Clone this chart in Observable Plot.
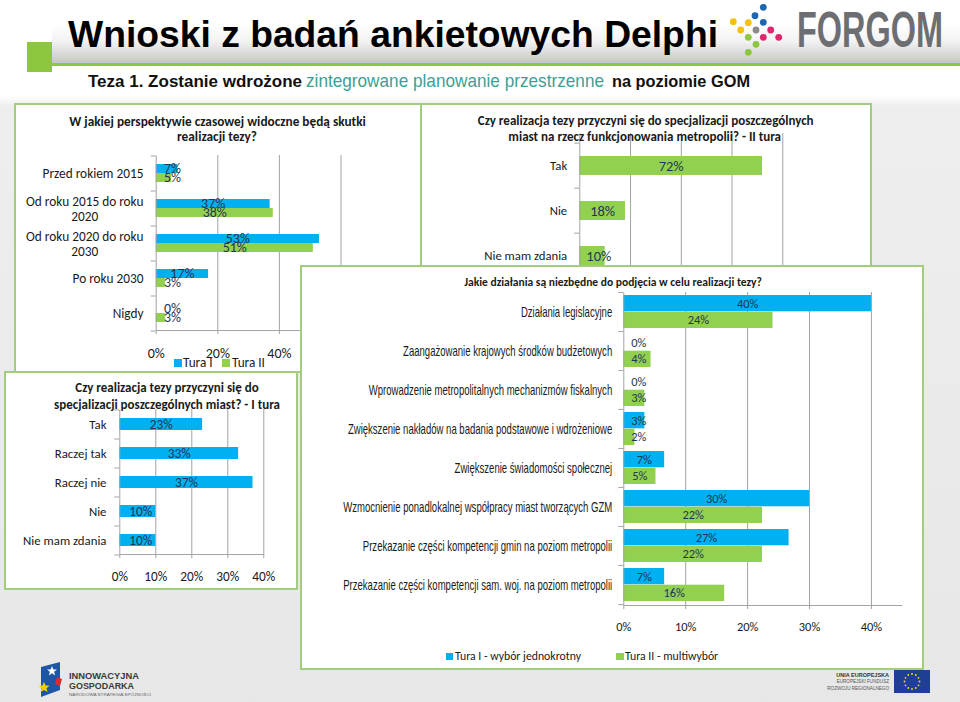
<!DOCTYPE html>
<html lang="pl">
<head>
<meta charset="utf-8">
<script src="https://cdn.jsdelivr.net/npm/d3@7"></script>
<script src="https://cdn.jsdelivr.net/npm/@observablehq/plot@0.6"></script>
<style>
  html, body { margin: 0; padding: 0; }
  body { width: 960px; height: 702px; overflow: hidden; }
  #stage { position: relative; width: 960px; height: 702px; overflow: hidden;
    background: linear-gradient(to bottom, #ffffff 0px, #ffffff 96px, #eeeeee 106px, #e7e7e7 702px); }
  .panel { position: absolute; box-sizing: border-box; background: #fff; border: 2px solid #a3cc7c; overflow: hidden; }
  .inner { position: absolute; width: 960px; height: 702px; }
  .txt { position: absolute; white-space: nowrap; line-height: 1; }
  .sw { position: absolute; }
</style>
</head>
<body>
<div id="stage"></div>
<script>
// ---------------- data ----------------
const perspCategories = ["Przed rokiem 2015", "Od roku 2015 do roku 2020", "Od roku 2020 do roku 2030", "Po roku 2030", "Nigdy"];
const perspTura1 = [7, 37, 53, 17, 0];
const perspTura2 = [5, 38, 51, 3, 3];
const perspTicks = [0, 20, 40, 60];
const perspSeries = ["Tura I", "Tura II"];

const specIICategories = ["Tak", "Nie", "Nie mam zdania"];
const specIIValues = [72, 18, 10];
const specIITicks = [0, 20, 40, 60, 80];

const specICategories = ["Tak", "Raczej tak", "Raczej nie", "Nie", "Nie mam zdania"];
const specIValues = [23, 33, 37, 10, 10];
const specITicks = [0, 10, 20, 30, 40];

const actionCategories = [
  "Działania legislacyjne",
  "Zaangażowanie krajowych środków budżetowych",
  "Wprowadzenie metropolitalnych mechanizmów fiskalnych",
  "Zwiększenie nakładów na badania podstawowe i wdrożeniowe",
  "Zwiększenie świadomości społecznej",
  "Wzmocnienie ponadlokalnej współpracy miast tworzących GZM",
  "Przekazanie części kompetencji gmin na poziom metropolii",
  "Przekazanie części kompetencji sam. woj. na poziom metropolii"
];
const actionTura1 = [40, 0, 0, 3.4, 6.6, 30, 26.7, 6.6];
const actionTura2 = [24.1, 4.4, 3.4, 1.8, 5.2, 22.4, 22.4, 16.3];
const actionTicks = [0, 10, 20, 30, 40];
const actionSeries = ["Tura I - wybór jednokrotny", "Tura II - multiwybór"];

const pageTitle = "Wnioski z badań ankietowych Delphi";
const logoText = "FORGOM";
const thesisParts = ["Teza 1. Zostanie wdrożone", "zintegrowane planowanie przestrzenne", "na poziomie GOM"];
const perspTitle = ["W jakiej perspektywie czasowej widoczne będą skutki", "realizacji tezy?"];
const specIITitle = ["Czy realizacja tezy przyczyni się do specjalizacji poszczególnych", "miast na rzecz funkcjonowania metropolii? - II tura"];
const specITitle = ["Czy realizacja tezy przyczyni się do", "specjalizacji poszczególnych miast? - I tura"];
const actionTitle = "Jakie działania są niezbędne do podjęcia w celu realizacji tezy?";

// ---------------- styles ----------------
const CAL = "Carlito, Lato, 'Open Sans', sans-serif";
const ARIAL = "'Liberation Sans', Arial, sans-serif";
const NARROW = "'Liberation Sans Narrow', 'Arial Narrow', 'Liberation Sans', Arial, sans-serif";
const BLUE = "#00b0f0", GREEN = "#92d050", GRID = "#a3a3a3", LABEL = "#1f3650", INK = "#1a1a1a";

const ctx = document.createElement("canvas").getContext("2d");
function textWidth(t, size, weight = "normal", family = CAL) {
  ctx.font = `${weight} ${size}px ${family}`;
  return ctx.measureText(t).width;
}
function fit(t, target, weight = "normal", family = CAL) {
  return 100 * target / textWidth(t, 100, weight, family);
}

const stage = document.getElementById("stage");

function panel(L, T, W, H) {
  const p = document.createElement("div");
  p.className = "panel";
  Object.assign(p.style, {left: L + "px", top: T + "px", width: W + "px", height: H + "px"});
  const inner = document.createElement("div");
  inner.className = "inner";
  inner.style.left = -(L + 2) + "px";
  inner.style.top = -(T + 2) + "px";
  p.appendChild(inner);
  stage.appendChild(p);
  return inner;
}
function addText(inner, str, x, y, size, {weight = "normal", family = CAL, color = INK, anchor = "middle"} = {}) {
  const d = document.createElement("div");
  d.className = "txt";
  d.textContent = str;
  Object.assign(d.style, {
    left: x + "px", top: y + "px", fontSize: size + "px", fontWeight: weight, fontFamily: family, color,
    transform: anchor === "middle" ? "translate(-50%,-50%)" : "translate(0,-50%)"
  });
  inner.appendChild(d);
}
function addSwatch(inner, x, y, s, color) {
  const d = document.createElement("div");
  d.className = "sw";
  Object.assign(d.style, {left: x + "px", top: (y - s / 2) + "px", width: s + "px", height: s + "px", background: color});
  inner.appendChild(d);
}

function barChart(o) {
  const n = o.cats.length, k = o.series.length;
  const step = (o.y1 - o.y0) / n;
  const bw = step * (1 - o.pi);
  const sub = bw / k;
  const W = o.x1 - o.x0, FH = o.y1 - o.frameTop;
  const minVal = o.minPx * (o.xDomain[1] - o.xDomain[0]) / W;
  const yfam = o.yFamily || CAL, ysize = o.ySize;
  const marks = [Plot.gridX(o.xTicks.filter(t => t > o.xDomain[0]), {stroke: GRID, strokeOpacity: 1})];
  const rowsOf = vals => o.cats.map((c, i) => ({cat: c, value: vals[i]}));
  o.series.forEach((vals, j) => {
    marks.push(Plot.barX(rowsOf(vals), {x: "value", y: "cat", fill: o.colors[j], insetTop: j * sub, insetBottom: (k - 1 - j) * sub}));
  });
  marks.push(Plot.frame({stroke: GRID, strokeDasharray: `0 ${W + FH} ${W + FH}`}));
  marks.push(Plot.axisY({ticks: o.cats, tickSize: 5, tickFormat: () => null, stroke: GRID, dy: -step / 2, label: null}));
  marks.push(Plot.axisY({ticks: o.cats.slice(-1), tickSize: 5, tickFormat: () => null, stroke: GRID, dy: step / 2, label: null}));
  if (o.xPad != null) {
    marks.push(Plot.axisX({ticks: o.xTicks, tickSize: 4, tickFormat: () => null, stroke: GRID, label: null}));
    marks.push(Plot.axisX({ticks: o.xTicks, tickSize: 0, tickPadding: o.xPad, tickFormat: d => d + "%", fontSize: o.fs, fill: INK, label: null}));
  }
  const disp = c => (o.wrapWidth && textWidth(c, ysize, "normal", yfam) > o.wrapWidth) ? c.replace(/ (\S+)$/, "\n$1") : c;
  const single = o.cats.filter(c => !disp(c).includes("\n"));
  marks.push(Plot.axisY({ticks: single, tickSize: 0, tickPadding: o.yPad, fontSize: ysize, fontFamily: yfam, fill: INK, label: null}));
  o.cats.filter(c => disp(c).includes("\n")).forEach(c => {
    const lines = disp(c).split("\n");
    const w = Math.max(...lines.map(l => textWidth(l, ysize, "normal", yfam)));
    marks.push(Plot.text([c], {y: d => d, text: disp, frameAnchor: "left", textAnchor: "middle",
      dx: -(o.yPad + w / 2), lineHeight: (o.lineGap || ysize * 1.1) / ysize, fontSize: ysize, fontFamily: yfam, fill: INK}));
  });
  o.series.forEach((vals, j) => {
    marks.push(Plot.text(rowsOf(vals), {x: d => Math.max(d.value / 2, minVal), y: "cat",
      dy: j * sub + sub / 2 - bw / 2, text: d => Math.round(d.value) + "%", fill: LABEL, fontSize: o.fs}));
  });
  const svg = Plot.plot({
    width: 960, height: 702,
    marginLeft: o.x0, marginRight: 960 - o.x1, marginTop: o.frameTop, marginBottom: 702 - o.y1,
    x: {domain: o.xDomain, axis: null},
    y: {domain: o.cats, paddingInner: o.pi, paddingOuter: o.pi / 2, insetTop: o.y0 - o.frameTop, axis: null},
    style: {background: "transparent", maxWidth: "none", fontFamily: CAL, fontSize: o.fs + "px",
      overflow: "visible", position: "absolute", left: "0px", top: "0px"},
    marks
  });
  return svg;
}

// ---------------- header ----------------
const logoScale = 146 / textWidth(logoText, 49, "bold", ARIAL);
const header = `
<svg width="960" height="100" style="position:absolute;left:0;top:0">
  <defs>
    <linearGradient id="band" x1="0" y1="0" x2="0" y2="1">
      <stop offset="0" stop-color="#ffffff"/><stop offset="0.45" stop-color="#f2f2f2"/><stop offset="1" stop-color="#c6c6c6"/>
    </linearGradient>
  </defs>
  <rect x="52" y="24" width="908" height="39" fill="url(#band)"/>
  <rect x="52" y="63" width="908" height="3" fill="#8dc63f"/>
  <rect x="27" y="42" width="25" height="30" fill="#8dc63f"/>
  <text x="68" y="47" font-family="${ARIAL}" font-weight="bold" font-size="37" fill="#000" textLength="650" lengthAdjust="spacingAndGlyphs">${pageTitle}</text>
  <g>
    <circle cx="763.3" cy="7.3" r="3.4" fill="#1f66b1"/>
    <circle cx="755" cy="15.7" r="3.4" fill="#1f66b1"/>
    <circle cx="763.3" cy="22.3" r="3.4" fill="#1f66b1"/>
    <circle cx="733.3" cy="21.7" r="3.4" fill="#f4c20d"/>
    <circle cx="748.3" cy="22.7" r="3.4" fill="#f4c20d"/>
    <circle cx="740.7" cy="30" r="3.4" fill="#f4c20d"/>
    <circle cx="756" cy="30" r="3.4" fill="#8a8a8a"/>
    <circle cx="770.7" cy="30" r="3.4" fill="#e0256f"/>
    <circle cx="748.3" cy="37.3" r="3.4" fill="#8dc63f"/>
    <circle cx="763.3" cy="37.3" r="3.4" fill="#e0256f"/>
    <circle cx="778.7" cy="37.3" r="3.4" fill="#e0256f"/>
    <circle cx="756" cy="44.3" r="3.4" fill="#8dc63f"/>
    <circle cx="748.3" cy="52.3" r="3.4" fill="#8dc63f"/>
  </g>
  <text transform="translate(797,46.7) scale(${logoScale.toFixed(3)},1)" font-family="${ARIAL}" font-weight="bold" font-size="49" fill="#6d6e71">${logoText}</text>
  <text x="88" y="87" font-family="${ARIAL}" font-weight="bold" font-size="16.5" fill="#111" textLength="214" lengthAdjust="spacingAndGlyphs">${thesisParts[0]}</text>
  <text x="306" y="87" font-family="${ARIAL}" font-size="19" fill="#3d9f94" textLength="298" lengthAdjust="spacingAndGlyphs">${thesisParts[1]}</text>
  <text x="612" y="87" font-family="${ARIAL}" font-weight="bold" font-size="16.5" fill="#111" textLength="138" lengthAdjust="spacingAndGlyphs">${thesisParts[2]}</text>
</svg>`;
stage.insertAdjacentHTML("beforeend", header);

// ---------------- panel 1 ----------------
const in1 = panel(14, 103, 408, 270);
const p1Cat = fit("Przed rokiem 2015", 101);
const p1Num = p1Cat * 1.05;
in1.appendChild(barChart({
  cats: perspCategories, series: [perspTura1, perspTura2], colors: [BLUE, GREEN],
  xDomain: [0, 60], xTicks: perspTicks, x0: 155.7, x1: 340.5, frameTop: 155, y0: 155, y1: 330,
  pi: 17 / 35, minPx: 16.3, fs: p1Num, ySize: p1Cat, yPad: 12.7, xPad: 17.5, wrapWidth: 115, lineGap: 15
}));
const p1T = fit(perspTitle[0], 297, "bold");
addText(in1, perspTitle[0], 217.5, 121.7, p1T, {weight: "bold"});
addText(in1, perspTitle[1], 217, 136.7, p1T, {weight: "bold"});
const p1Leg = fit("Tura II", 33);
addSwatch(in1, 174, 363, 8, BLUE);
addText(in1, perspSeries[0], 183, 363, p1Leg, {anchor: "start"});
addSwatch(in1, 222, 363, 8, GREEN);
addText(in1, perspSeries[1], 232, 363, p1Leg, {anchor: "start"});

// ---------------- panel 3 (II tura) ----------------
const in3 = panel(420, 103, 452, 172);
const p3Cat = fit("Nie mam zdania", 83);
const p3Num = fit("72%", 25);
in3.appendChild(barChart({
  cats: specIICategories, series: [specIIValues], colors: [GREEN],
  xDomain: [0, 80], xTicks: specIITicks, x0: 579.3, x1: 782.3, frameTop: 133, y0: 141.7, y1: 278.7,
  pi: 1 - 19 / 45.67, minPx: 19, fs: p3Num, ySize: p3Cat, yPad: 12.6
}));
const p3T = fit(specIITitle[0], 336, "bold");
addText(in3, specIITitle[0], 645.7, 120.7, p3T, {weight: "bold"});
addText(in3, specIITitle[1], 644.7, 137.3, p3T, {weight: "bold"});

// ---------------- panel 4 (I tura) ----------------
const in4 = panel(4, 371, 294, 219);
const p4Cat = fit("Nie mam zdania", 83.5);
const p4Num = fit("30%", 23);
in4.appendChild(barChart({
  cats: specICategories, series: [specIValues], colors: [BLUE],
  xDomain: [0, 40], xTicks: specITicks, x0: 119.3, x1: 263.3, frameTop: 409, y0: 409, y1: 554,
  pi: 1 - 11.7 / 29, minPx: 21, fs: p4Num, ySize: p4Cat, yPad: 13.3, xPad: 17.5
}));
const p4T = fit(specITitle[1], 226, "bold");
addText(in4, specITitle[0], 167, 386.7, p4T, {weight: "bold"});
addText(in4, specITitle[1], 167, 403.5, p4T, {weight: "bold"});

// ---------------- panel 5 (actions) ----------------
const in5 = panel(300, 265, 624, 405);
const p5Num = fit("40%", 21.5);
const p5Leg = fit(actionSeries[0], 126);
const svg5 = barChart({
  cats: actionCategories, series: [actionTura1, actionTura2], colors: [BLUE, GREEN],
  xDomain: [0, 45], xTicks: actionTicks, x0: 623.3, x1: 901.9, frameTop: 292, y0: 292, y1: 605,
  pi: 1 - 33.4 / 39.125, minPx: 15, fs: p5Num, ySize: 14.5, yFamily: NARROW, yPad: 11.6, xPad: 16.5
});
in5.appendChild(svg5);
{
  const els = [...svg5.querySelectorAll("text")].filter(t => actionCategories.includes(t.textContent));
  const ref = els.find(t => t.textContent === actionCategories[5]);
  if (ref) {
    const f = 269 / ref.getComputedTextLength();
    els.forEach(t => {
      t.setAttribute("textLength", (t.getComputedTextLength() * f).toFixed(1));
      t.setAttribute("lengthAdjust", "spacingAndGlyphs");
    });
  }
}
const p5T = fit(actionTitle, 298, "bold");
addText(in5, actionTitle, 613, 282.7, p5T, {weight: "bold"});
addSwatch(in5, 445.7, 656.7, 7.5, BLUE);
addText(in5, actionSeries[0], 455, 656.7, p5Leg, {anchor: "start"});
addSwatch(in5, 616, 656.7, 7.5, GREEN);
addText(in5, actionSeries[1], 625, 656.7, p5Leg, {anchor: "start"});

// ---------------- footer logos ----------------
const euStars = d3.range(12).map(i => {
  const a = i / 12 * 2 * Math.PI;
  return `<circle cx="${(912 + 7.5 * Math.cos(a)).toFixed(1)}" cy="${(681.5 + 7.5 * Math.sin(a)).toFixed(1)}" r="0.9" fill="#ffdd00"/>`;
}).join("");
const footer = `
<svg width="960" height="702" style="position:absolute;left:0;top:0;pointer-events:none">
  <polygon points="41,667 60,662 60,690 41,697" fill="#1f55a5"/>
  <polygon points="52,666 53.3,669.5 57,669.6 54.1,671.8 55.1,675.4 52,673.3 48.9,675.4 49.9,671.8 47,669.6 50.7,669.5" fill="#ffffff"/>
  <polygon points="57,677 62,679 60,686 55,684" fill="#d92b2b"/>
  <polygon points="44,682 45.6,685.5 49.5,685.8 46.5,688.3 47.5,692 44,690 40.5,692 41.5,688.3 38.5,685.8 42.4,685.5" fill="#f5d000"/>
  <text x="69" y="678.5" font-family="${ARIAL}" font-weight="bold" font-size="9.5" fill="#3a3a3a" textLength="70" lengthAdjust="spacingAndGlyphs">INNOWACYJNA</text>
  <text x="69" y="688.5" font-family="${ARIAL}" font-weight="bold" font-size="9.5" fill="#3a3a3a" textLength="65" lengthAdjust="spacingAndGlyphs">GOSPODARKA</text>
  <text x="69" y="695.5" font-family="${ARIAL}" font-size="3.8" fill="#666" textLength="82" lengthAdjust="spacingAndGlyphs">NARODOWA STRATEGIA SPÓJNOŚCI</text>
  <text x="889" y="676.5" text-anchor="end" font-family="${ARIAL}" font-weight="bold" font-size="5.5" fill="#333">UNIA EUROPEJSKA</text>
  <text x="889" y="683" text-anchor="end" font-family="${ARIAL}" font-size="4.6" fill="#555">EUROPEJSKI FUNDUSZ</text>
  <text x="889" y="689.5" text-anchor="end" font-family="${ARIAL}" font-size="4.6" fill="#555">ROZWOJU REGIONALNEGO</text>
  <rect x="894" y="670" width="36" height="23" fill="#1f3f95"/>
  ${euStars}
</svg>`;
stage.insertAdjacentHTML("beforeend", footer);
</script>
</body>
</html>
